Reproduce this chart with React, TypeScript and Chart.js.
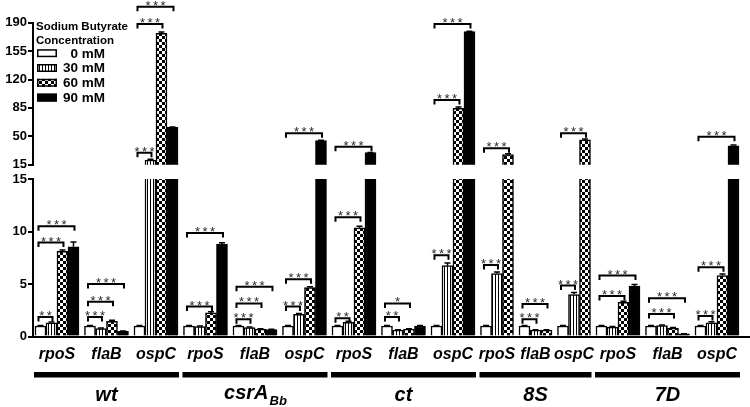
import React, { useEffect, useRef } from 'react';
import { Chart, registerables } from 'chart.js';

Chart.register(...registerables);

const FONT = "'Liberation Sans', Arial, Helvetica, sans-serif";

// ---------- data ----------
const strains = ['wt', 'csrA', 'ct', '8S', '7D'];
const strainSubscripts = ['', 'Bb', '', '', ''];
const genes = ['rpoS', 'flaB', 'ospC'];
const concentrations = ['0 mM', '30 mM', '60 mM', '90 mM'];
const legendTitle = ['Sodium Butyrate', 'Concentration'];
const lowerTicks = [0, 5, 10, 15];
const upperTicks = [15, 50, 85, 120, 155, 190];

// order: wt rpoS, wt flaB, wt ospC, csrA rpoS, ..., 7D ospC
const values0mM = [1, 1, 1, 1, 1, 1, 1, 1, 1, 1, 1, 1, 1, 1, 1];
const values30mM = [1.3, 0.75, 20.8, 0.95, 0.85, 2.1, 1.35, 0.6, 6.75, 6.0, 0.6, 4.0, 0.9, 1.05, 1.3];
const values60mM = [8.1, 1.45, 177, 2.25, 0.7, 4.65, 10.35, 0.7, 84.5, 27.5, 0.6, 45.5, 3.25, 0.8, 5.8];
const values90mM = [8.55, 0.5, 61, 8.8, 0.65, 44.6, 29.8, 1.0, 179, null, null, null, 4.8, 0.25, 38.2];

const errors0mM = [0.05, 0.05, 0.05, 0.05, 0.05, 0.05, 0.05, 0.05, 0.05, 0.05, 0.05, 0.05, 0.05, 0.05, 0.05];
const errors30mM = [0.08, 0.05, 0.8, 0.05, 0.05, 0.1, 0.1, 0.05, 0.25, 0.15, 0.05, 0.2, 0.05, 0.05, 0.1];
const errors60mM = [0.15, 0.1, 1.5, 0.1, 0.05, 0.1, 0.15, 0.05, 1.5, 1.0, 0.05, 1.2, 0.1, 0.05, 0.15];
const errors90mM = [0.45, 0.03, 0.5, 0.12, 0.03, 0.5, 0.3, 0.05, 0.5, null, null, null, 0.15, 0.02, 1.0];

// [strain, gene, from concentration, to concentration, bracket height, label]
const brackets: [number, number, number, number, number, string][] = [
  [0, 0, 0, 1, 1.85, '**'], [0, 0, 0, 2, 8.95, '***'], [0, 0, 0, 3, 10.5, '***'],
  [0, 1, 0, 1, 1.85, '***'], [0, 1, 0, 2, 3.3, '***'], [0, 1, 0, 3, 5.0, '***'],
  [0, 2, 0, 1, 29.8, '***'], [0, 2, 0, 2, 188.5, '***'], [0, 2, 0, 3, 209.8, '***'],
  [1, 0, 0, 2, 2.85, '***'], [1, 0, 0, 3, 9.85, '***'],
  [1, 1, 0, 1, 1.65, '***'], [1, 1, 0, 2, 3.15, '***'], [1, 1, 0, 3, 4.75, '***'],
  [1, 2, 0, 1, 2.85, '***'], [1, 2, 0, 2, 5.45, '***'], [1, 2, 0, 3, 53.7, '***'],
  [2, 0, 0, 1, 1.75, '**'], [2, 0, 0, 2, 11.35, '***'], [2, 0, 0, 3, 37.2, '***'],
  [2, 1, 0, 1, 1.85, '**'], [2, 1, 0, 2, 3.15, '*'],
  [2, 2, 0, 1, 7.75, '***'], [2, 2, 0, 2, 94.8, '***'], [2, 2, 0, 3, 188.5, '***'],
  [3, 0, 0, 1, 6.8, '***'], [3, 0, 0, 2, 35.2, '***'],
  [3, 1, 0, 1, 1.65, '***'], [3, 1, 0, 2, 3.1, '***'],
  [3, 2, 0, 1, 4.85, '***'], [3, 2, 0, 2, 53.7, '***'],
  [4, 0, 0, 2, 3.85, '***'], [4, 0, 0, 3, 5.8, '***'],
  [4, 1, 0, 2, 2.15, '***'], [4, 1, 0, 3, 3.65, '***'],
  [4, 2, 0, 1, 1.95, '***'], [4, 2, 0, 2, 6.6, '***'], [4, 2, 0, 3, 49.5, '***'],
];

const seriesValues = [values0mM, values30mM, values60mM, values90mM];
const seriesErrors = [errors0mM, errors30mM, errors60mM, errors90mM];

// ---------- slot layout (one slot per bar, half-slot gap between clusters) ----------
const nClusters = strains.length * genes.length;
const positions: (number | null)[][] = seriesValues.map(() => new Array(nClusters).fill(null));
const clusters: { start: number; end: number; center: number }[] = [];
(() => {
  let cursor = 0;
  for (let k = 0; k < nClusters; k++) {
    const start = cursor;
    for (let c = 0; c < seriesValues.length; c++) {
      if (seriesValues[c][k] == null) continue;
      positions[c][k] = cursor;
      cursor += 1;
    }
    clusters.push({ start, end: cursor - 1, center: (start + cursor - 1) / 2 });
    cursor += 0.5;
  }
})();

const X_MIN = -0.68;
const X_MAX = 64.41;

// ---------- patterns ----------
function makeStripes(): CanvasPattern {
  const c = document.createElement('canvas');
  c.width = 3; c.height = 3;
  const g = c.getContext('2d')!;
  g.fillStyle = '#fff'; g.fillRect(0, 0, 3, 3);
  g.fillStyle = '#000'; g.fillRect(0, 0, 1, 3);
  return g.createPattern(c, 'repeat')!;
}
function makeChecker(): CanvasPattern {
  const c = document.createElement('canvas');
  c.width = 6; c.height = 6;
  const g = c.getContext('2d')!;
  g.fillStyle = '#fff'; g.fillRect(0, 0, 6, 6);
  g.fillStyle = '#000'; g.fillRect(0, 0, 3, 3); g.fillRect(3, 3, 3, 3);
  return g.createPattern(c, 'repeat')!;
}

// ---------- plugins ----------
const errorBarPlugin = {
  id: 'errorBars',
  afterDatasetsDraw(chart: any) {
    const { ctx, chartArea: a, scales } = chart;
    const x = scales.x, y = scales.y;
    ctx.save();
    ctx.beginPath();
    ctx.rect(a.left, a.top, a.right - a.left, a.bottom - a.top);
    ctx.clip();
    ctx.strokeStyle = '#000';
    ctx.lineWidth = 1.5;
    seriesValues.forEach((vals, c) => {
      vals.forEach((v, k) => {
        const e = seriesErrors[c][k];
        const p = positions[c][k];
        if (v == null || e == null || p == null || e <= 0) return;
        const px = x.getPixelForValue(p);
        const y0 = y.getPixelForValue(v);
        const y1 = y.getPixelForValue(v + e);
        ctx.beginPath();
        ctx.moveTo(px, y0); ctx.lineTo(px, y1);
        ctx.moveTo(px - 3, y1); ctx.lineTo(px + 3, y1);
        ctx.stroke();
      });
    });
    ctx.restore();
  },
};

function bracketPlugin(upper: boolean) {
  return {
    id: 'brackets',
    afterDatasetsDraw(chart: any) {
      const { ctx, scales } = chart;
      const x = scales.x, y = scales.y;
      ctx.save();
      brackets.forEach(([s, g, ca, cb, h, label]) => {
        if ((h > 15) !== upper) return;
        const k = s * genes.length + g;
        const pa = positions[ca][k], pb = positions[cb][k];
        if (pa == null || pb == null) return;
        const x1 = x.getPixelForValue(pa) - 2;
        const x2 = x.getPixelForValue(pb) + 1;
        const yy = y.getPixelForValue(h);
        ctx.strokeStyle = '#000';
        ctx.lineWidth = 2;
        ctx.beginPath();
        ctx.moveTo(x1, yy + 4.5); ctx.lineTo(x1, yy); ctx.lineTo(x2, yy); ctx.lineTo(x2, yy + 4.5);
        ctx.stroke();
        ctx.fillStyle = '#2a2a2a';
        ctx.font = `13px ${FONT}`;
        ctx.textAlign = 'center';
        ctx.textBaseline = 'alphabetic';
        const n = label.length;
        const sp = 7.5;
        const cx = (x1 + x2) / 2;
        for (let i = 0; i < n; i++) ctx.fillText('*', cx + (i - (n - 1) / 2) * sp, yy + 3);
      });
      ctx.restore();
    },
  };
}

function legendPlugin(fills: any[]) {
  return {
    id: 'legendBox',
    afterDraw(chart: any) {
      const { ctx } = chart;
      ctx.save();
      ctx.fillStyle = '#000';
      ctx.textBaseline = 'alphabetic';
      ctx.textAlign = 'left';
      ctx.font = `bold 11.5px ${FONT}`;
      ctx.fillText(legendTitle[0], 36, 30);
      ctx.fillText(legendTitle[1], 36, 44);
      concentrations.forEach((label, c) => {
        const base = 57.5 + c * 14.8;
        ctx.fillStyle = fills[c];
        ctx.fillRect(37, base - 8.3, 20, 8);
        ctx.strokeStyle = '#000';
        ctx.lineWidth = 1.5;
        ctx.strokeRect(37.75, base - 7.55, 18.5, 6.5);
        ctx.fillStyle = '#000';
        ctx.font = `bold 13.5px ${FONT}`;
        ctx.textAlign = 'right';
        ctx.fillText(label, 105, base);
        ctx.textAlign = 'left';
      });
      ctx.restore();
    },
  };
}

const categoryLabelPlugin = {
  id: 'categoryLabels',
  afterDraw(chart: any) {
    const { ctx, chartArea, scales } = chart;
    const x = scales.x;
    const b = chartArea.bottom;
    ctx.save();
    ctx.fillStyle = '#000';
    ctx.textBaseline = 'alphabetic';
    ctx.textAlign = 'center';
    ctx.font = `italic bold 16px ${FONT}`;
    clusters.forEach((cl, k) => {
      ctx.fillText(genes[k % genes.length], x.getPixelForValue(cl.center), b + 22);
    });
    strains.forEach((name, s) => {
      const k0 = s * genes.length, k1 = s * genes.length + genes.length - 1;
      const left = x.getPixelForValue(clusters[k0].start - 0.5) - 1;
      const right = x.getPixelForValue(clusters[k1].end + 0.5) + 1;
      ctx.fillRect(left, b + 35.5, right - left, 5.5);
      const cx = (left + right) / 2;
      const mainFont = `italic bold 20px ${FONT}`;
      const subFont = `italic bold 13px ${FONT}`;
      const sub = strainSubscripts[s];
      ctx.font = mainFont;
      const w1 = ctx.measureText(name).width;
      ctx.font = subFont;
      const w2 = sub ? ctx.measureText(sub).width : 0;
      const sx = cx - (w1 + w2) / 2;
      ctx.textAlign = 'left';
      ctx.font = mainFont;
      const baseY = sub ? b + 62 : b + 64.5;
      ctx.fillText(name, sx, baseY);
      if (sub) {
        ctx.font = subFont;
        ctx.fillText(sub, sx + w1 + 1, b + 68);
      }
    });
    ctx.restore();
  },
};

// ---------- config ----------
function yScale(ticks: number[]) {
  return {
    type: 'linear',
    min: ticks[0],
    max: ticks[ticks.length - 1],
    beginAtZero: false,
    afterBuildTicks: (s: any) => { s.ticks = ticks.map((v) => ({ value: v })); },
    afterFit: (s: any) => { s.width = 33; },
    grid: { display: true, drawOnChartArea: false, drawTicks: true, tickLength: 5, lineWidth: 2, color: '#000' },
    border: { display: true, width: 2, color: '#000' },
    ticks: { padding: 1, color: '#000', font: { family: FONT, size: 13, weight: 'bold' } },
  };
}

function xScale(display: boolean) {
  return {
    type: 'linear',
    min: X_MIN,
    max: X_MAX,
    offset: false,
    display,
    afterBuildTicks: (s: any) => { s.ticks = clusters.map((cl) => ({ value: cl.center })); },
    grid: { display: false, drawTicks: false },
    border: { display: true, width: 2, color: '#000' },
    ticks: { display: false },
  };
}

function buildConfig(upper: boolean, fills: any[]): any {
  const datasets = seriesValues.map((vals, c) => ({
    label: concentrations[c],
    data: vals
      .map((v, k) => (v == null ? null : { x: positions[c][k], y: v }))
      .filter((d) => d != null),
    backgroundColor: fills[c],
    borderColor: '#000',
    borderWidth: 1.5,
    borderSkipped: 'start',
    grouped: false,
    categoryPercentage: 1,
    barPercentage: 1,
    clip: 0,
  }));
  return {
    type: 'bar',
    data: { datasets },
    options: {
      animation: false,
      responsive: false,
      events: [],
      layout: {
        padding: upper
          ? { top: 22.7, bottom: 11.3, left: 0, right: 1 }
          : { top: 29, bottom: 70.5, left: 0, right: 1 },
      },
      plugins: { legend: { display: false }, tooltip: { enabled: false }, title: { display: false } },
      scales: {
        x: xScale(!upper),
        y: yScale(upper ? upperTicks : lowerTicks),
      },
    },
    plugins: upper
      ? [errorBarPlugin, bracketPlugin(true), legendPlugin(fills)]
      : [errorBarPlugin, bracketPlugin(false), categoryLabelPlugin],
  };
}

export default function App() {
  const topRef = useRef<HTMLCanvasElement>(null);
  const bottomRef = useRef<HTMLCanvasElement>(null);
  useEffect(() => {
    const fills = ['#ffffff', makeStripes(), makeChecker(), '#000000'];
    const top = new Chart(topRef.current!, buildConfig(true, fills));
    const bottom = new Chart(bottomRef.current!, buildConfig(false, fills));
    return () => {
      top.destroy();
      bottom.destroy();
    };
  }, []);
  return (
    <div style={{ position: 'fixed', left: 0, top: 0, width: 750, height: 407, background: '#fff', overflow: 'hidden' }}>
      <canvas ref={bottomRef} width={750} height={257} style={{ position: 'absolute', left: 0, top: 150, width: 750, height: 257 }} />
      <canvas ref={topRef} width={750} height={176} style={{ position: 'absolute', left: 0, top: 0, width: 750, height: 176 }} />
    </div>
  );
}
